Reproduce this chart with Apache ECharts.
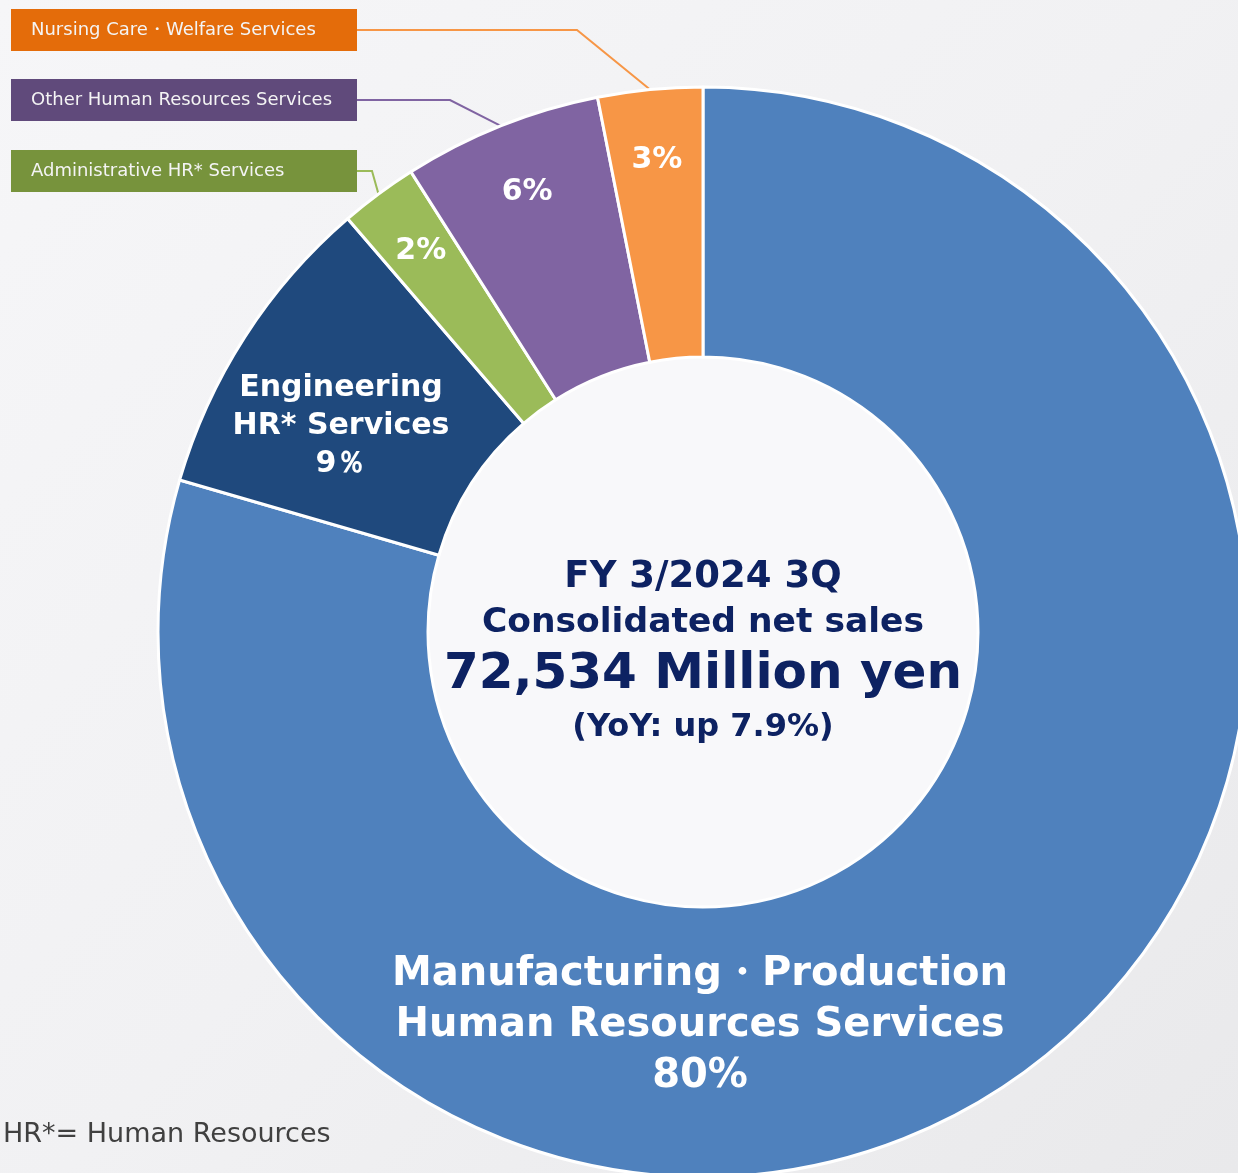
<!DOCTYPE html>
<html>
<head>
<meta charset="utf-8">
<script src="https://cdn.jsdelivr.net/npm/echarts@6/dist/echarts.min.js"></script>
<style>
  html, body { margin: 0; padding: 0; }
  #main { width: 1238px; height: 1173px; }
</style>
</head>
<body>
<div id="main"></div>
<script>
// segment names, clockwise from 12 o'clock
var segments = [
  'Manufacturing・Production\nHuman Resources Services',
  'Engineering\nHR* Services',
  'Administrative HR* Services',
  'Other Human Resources Services',
  'Nursing Care・Welfare Services'
];
// share of net sales (%)
var shares = [79.5, 9.2, 2.3, 5.9, 3.1];
// the percent text shown on the slices
var shareLabels = ['80%', '9％', '2%', '6%', '3%'];

var sliceColors = ['#4F81BD', '#1F497D', '#9BBB59', '#8064A2', '#F79646'];
var boxColors = [null, null, '#77933C', '#604A7B', '#E46C0A'];

var myChart = echarts.init(document.getElementById('main'));

var CENTER = [703, 632];

// visible donut
var ringData = segments.map(function (name, i) {
  return {
    name: name,
    value: shares[i],
    itemStyle: { color: sliceColors[i] },
    label: {
      show: i < 2,
      fontSize: i === 0 ? 40 : 30,
      lineHeight: i === 0 ? 51 : 38
    }
  };
});

// invisible ring, only carries the small percentages near the outer edge
var pctData = segments.map(function (name, i) {
  return {
    name: name,
    value: shares[i],
    label: { show: i >= 2 }
  };
});

// invisible ring, carries the boxed names with leader lines
var leaderLen = [0, 0, 15, 93, 220];
var boxData = segments.map(function (name, i) {
  var small = i >= 2;
  return {
    name: name,
    value: shares[i],
    label: { show: small, backgroundColor: boxColors[i] || 'transparent' },
    labelLine: {
      show: small,
      length: 10,
      length2: leaderLen[i],
      lineStyle: { color: sliceColors[i], width: 2 }
    }
  };
});

var boxY = [0, 0, 171, 100, 30];

var option = {
  animation: false,
  backgroundColor: new echarts.graphic.LinearGradient(0, 0, 1, 1, [
    { offset: 0, color: '#f6f6f8' },
    { offset: 0.5, color: '#f1f1f3' },
    { offset: 1, color: '#e9e9eb' }
  ]),
  title: [
    {
      text: '{f|FY 3/2024 3Q}\n{a|Consolidated net sales}\n{b|72,534 Million yen}\n{c|(YoY: up 7.9%)}',
      left: CENTER[0],
      top: 554,
      padding: 0,
      textAlign: 'center',
      textStyle: {
        rich: {
          f: { fontFamily: 'DejaVu Sans', fontWeight: 'bold', fontSize: 37, lineHeight: 46, color: '#0D2262' },
          a: { fontFamily: 'DejaVu Sans', fontWeight: 'bold', fontSize: 34.5, lineHeight: 46, color: '#0D2262' },
          b: { fontFamily: 'DejaVu Sans', fontWeight: 'bold', fontSize: 50, lineHeight: 58, color: '#0D2262' },
          c: { fontFamily: 'DejaVu Sans', fontWeight: 'bold', fontSize: 32, lineHeight: 48, color: '#0D2262' }
        }
      }
    },
    {
      text: 'HR*= Human Resources',
      left: -2,
      top: 1116,
      textStyle: { fontFamily: 'DejaVu Sans', fontWeight: 'normal', fontSize: 27, color: '#404040' }
    }
  ],
  series: [
    {
      // light disc in the hole
      type: 'pie',
      silent: true,
      center: CENTER,
      radius: [0, 274],
      label: { show: false },
      labelLine: { show: false },
      data: [{ value: 1, itemStyle: { color: '#f8f8fa' } }]
    },
    {
      type: 'pie',
      center: CENTER,
      radius: [275, 545],
      startAngle: 90,
      clockwise: true,
      silent: true,
      avoidLabelOverlap: false,
      itemStyle: { borderColor: '#ffffff', borderWidth: 3 },
      label: {
        position: 'inside',
        color: '#ffffff',
        fontFamily: 'DejaVu Sans',
        fontWeight: 'bold',
        formatter: function (p) {
          return p.name + '\n' + shareLabels[p.dataIndex];
        }
      },
      labelLayout: function (p) {
        if (p.dataIndex === 0) {
          return { x: 700, y: 1026, align: 'center', verticalAlign: 'middle' };
        }
        if (p.dataIndex === 1) {
          return { x: 341, y: 426, align: 'center', verticalAlign: 'middle' };
        }
        return {};
      },
      data: ringData
    },
    {
      type: 'pie',
      center: CENTER,
      radius: [397, 545],
      startAngle: 90,
      clockwise: true,
      silent: true,
      avoidLabelOverlap: false,
      itemStyle: { color: 'rgba(0,0,0,0)' },
      label: {
        position: 'inside',
        color: '#ffffff',
        fontFamily: 'DejaVu Sans',
        fontWeight: 'bold',
        fontSize: 30,
        formatter: function (p) { return shareLabels[p.dataIndex]; }
      },
      labelLine: { show: false },
      data: pctData
    },
    {
      type: 'pie',
      center: CENTER,
      radius: [275, 545],
      startAngle: 90,
      clockwise: true,
      silent: true,
      avoidLabelOverlap: false,
      itemStyle: { color: 'rgba(0,0,0,0)' },
      label: {
        position: 'outside',
        color: '#f4f4f4',
        fontFamily: 'DejaVu Sans',
        fontSize: 18,
        lineHeight: 20,
        width: 306,
        padding: [11, 20],
        align: 'left',
        formatter: '{b}'
      },
      labelLayout: function (p) {
        if (p.dataIndex < 2) return {};
        return { x: 11, y: boxY[p.dataIndex], align: 'left', verticalAlign: 'middle' };
      },
      data: boxData
    }
  ]
};

myChart.setOption(option);
</script>
</body>
</html>
